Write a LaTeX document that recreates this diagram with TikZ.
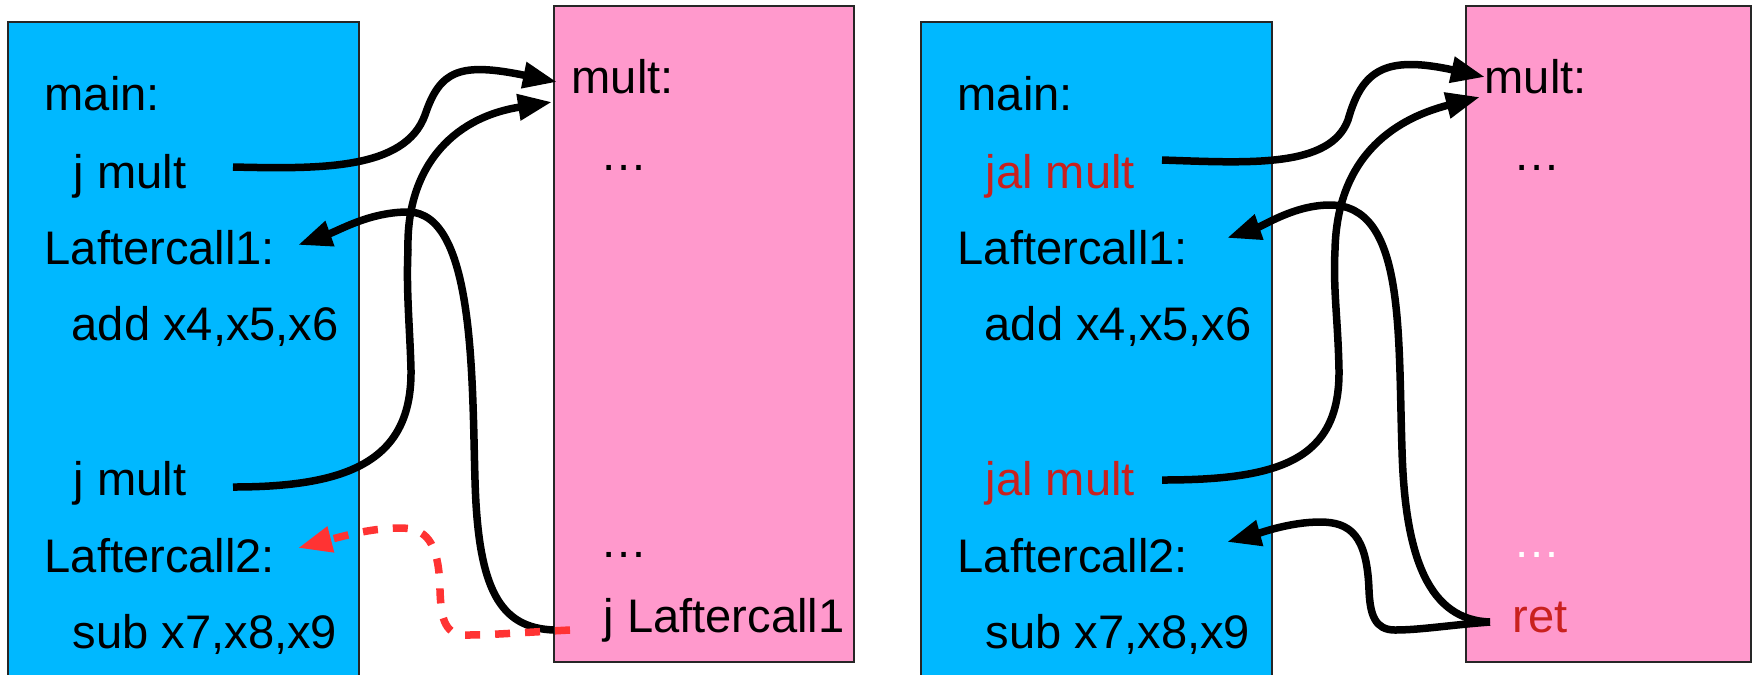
\documentclass[tikz,border=0pt]{standalone}
\usepackage{fontspec}
\setmainfont{Liberation Sans}
\usetikzlibrary{arrows.meta}

\definecolor{callerblue}{RGB}{0,184,255}
\definecolor{calleepink}{RGB}{255,153,204}
\definecolor{insnred}{RGB}{201,33,30}
\definecolor{wrongred}{RGB}{255,51,51}

\begin{document}
\begin{tikzpicture}[x=0.1mm,y=-0.1mm,
  code/.style={anchor=base west,inner sep=0pt,font=\fontsize{13.4}{16}\selectfont},
  caller/.style={fill=callerblue,draw=black!85,line width=0.2mm},
  callee/.style={fill=calleepink,draw=black!85,line width=0.2mm},
  flow/.style={line width=0.75mm,-{Triangle[length=3.4mm,width=2.5mm]}},
  badflow/.style={flow,draw=wrongred,dash pattern=on 1.5mm off 1.5mm},
  jump/.style={code,text=insnred}]
\useasboundingbox (0,0) rectangle (1756,674);
\clip (0,0) rectangle (1756,674);

% ---------------- left: plain jumps ----------------
\draw[caller] (8,22) rectangle (359,700);
\draw[callee] (554,6) rectangle (854,662);

\node[code] (lmain) at (44,110) {main:};
\node[code] (ljm1)  at (73,188) {j mult};
\node[code] (llac1) at (44,264) {Laftercall1:};
\node[code] (ladd)  at (71,340) {add x4,x5,x6};
\node[code] (ljm2)  at (73,495) {j mult};
\node[code] (llac2) at (44,572) {Laftercall2:};
\node[code] (lsub)  at (72,648) {sub x7,x8,x9};

\node[code] (lmult) at (571,93)  {mult:};
\node[code] (ldot1) at (600,170) {…};
\node[code] (ldot2) at (600,557) {…};
\node[code] (lret)  at (603,632) {j Laftercall1};

\coordinate (lcall1) at (233,167);
\coordinate (lcall2) at (233,487);
\coordinate (lin1)   at (557,82);
\coordinate (lin2)   at (552,102);
\coordinate (lback1) at (298,245);
\coordinate (lback2) at (298,548);
\coordinate (lout)   at (554,630);
\coordinate (loutr)  at (570,630);

\draw[flow] (lcall1) .. controls (320,169) and (405,170) .. (425,115)
                     .. controls (440,70) and (460,62) .. (lin1);
\draw[flow] (lcall2) .. controls (350,487) and (412,460) .. (411,370)
                     .. controls (410,330) and (406,290) .. (408,250)
                     .. controls (406,170) and (450,118) .. (lin2);
\draw[flow] (lout) .. controls (500,628) and (478,590) .. (475,480)
                   .. controls (472,380) and (475,212) .. (408,212)
                   .. controls (370,212) and (340,230) .. (lback1);
\draw[badflow] (loutr) .. controls (530,632) and (490,635) .. (468,635)
                       .. controls (445,636) and (441,620) .. (440,590)
                       .. controls (439,540) and (425,528) .. (400,528)
                       .. controls (370,528) and (340,537) .. (lback2);

% ---------------- right: jal / ret ----------------
\draw[caller] (921,22) rectangle (1272,700);
\draw[callee] (1466,6) rectangle (1751,662);

\node[code] (rmain) at (957,110)  {main:};
\node[jump] (rjm1)  at (985,188)  {jal mult};
\node[code] (rlac1) at (957,264)  {Laftercall1:};
\node[code] (radd)  at (984,340)  {add x4,x5,x6};
\node[jump] (rjm2)  at (985,495)  {jal mult};
\node[code] (rlac2) at (957,572)  {Laftercall2:};
\node[code] (rsub)  at (985,648)  {sub x7,x8,x9};

\node[code] (rmult) at (1484,93)  {mult:};
\node[code] (rdot1) at (1513,170) {…};
\node[code,text=white] (rdot2) at (1513,557) {…};
\node[jump] (rret)  at (1512,632) {ret};

\coordinate (rcall1) at (1162,160);
\coordinate (rcall2) at (1162,480);
\coordinate (rin1)   at (1485,77);
\coordinate (rin2)   at (1480,97);
\coordinate (rback1) at (1227,238);
\coordinate (rback2) at (1227,542);
\coordinate (rout)   at (1490,622);

\draw[flow] (rcall1) .. controls (1250,163) and (1330,168) .. (1348,120)
                     .. controls (1362,70) and (1385,55) .. (rin1);
\draw[flow] (rcall2) .. controls (1280,480) and (1340,460) .. (1339,370)
                     .. controls (1338,320) and (1333,290) .. (1335,250)
                     .. controls (1337,160) and (1390,120) .. (rin2);
\draw[flow] (rout) .. controls (1430,620) and (1405,560) .. (1402,450)
                   .. controls (1398,330) and (1405,205) .. (1330,205)
                   .. controls (1295,205) and (1265,225) .. (rback1);
\draw[flow] (rout) .. controls (1450,625) and (1420,630) .. (1395,630)
                   .. controls (1375,630) and (1370,615) .. (1369,590)
                   .. controls (1367,535) and (1350,522) .. (1320,522)
                   .. controls (1290,522) and (1260,533) .. (rback2);
\end{tikzpicture}
\end{document}
